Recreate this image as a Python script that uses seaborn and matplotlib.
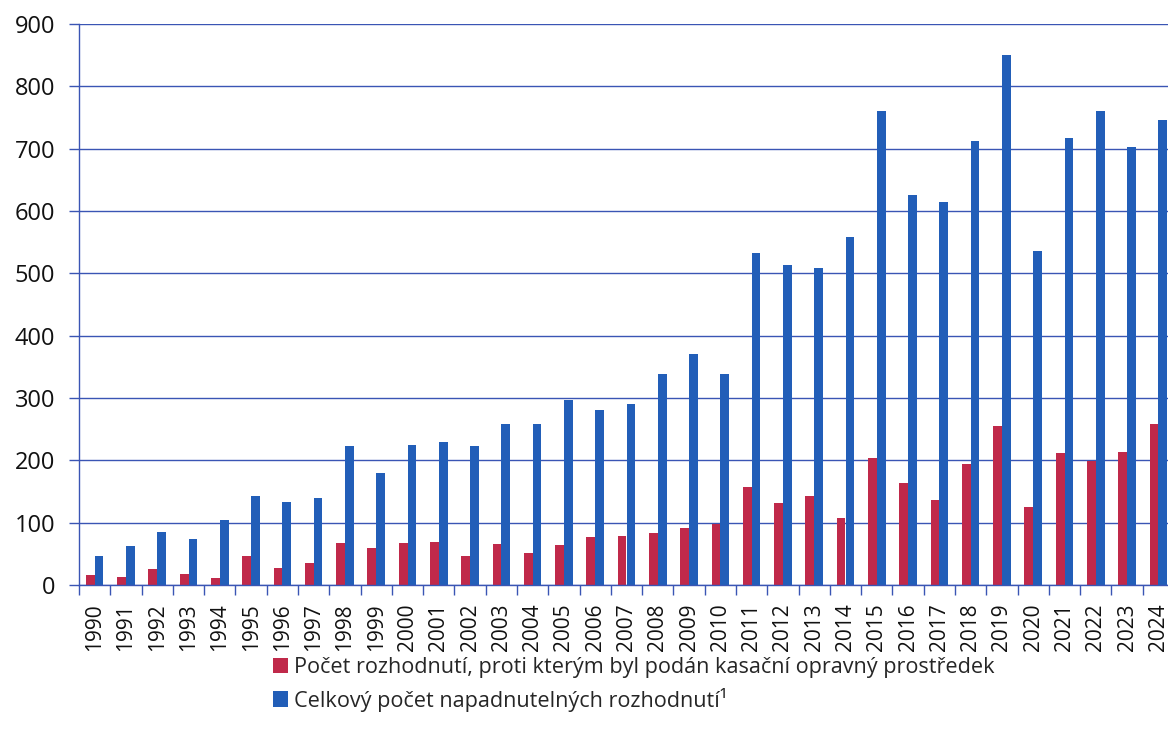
import numpy as np
import pandas as pd
import matplotlib
matplotlib.use("Agg")
import matplotlib.pyplot as plt
import seaborn as sns
from matplotlib.patches import Patch

years = [str(y) for y in range(1990, 2025)]

# Počet rozhodnutí, proti kterým byl podán kasační opravný prostředek
napadena = [16, 13, 25, 17, 12, 47, 27, 35, 67, 60,
            67, 69, 47, 66, 52, 64, 77, 78, 83, 92,
            98, 158, 132, 143, 108, 203, 163, 137, 194, 255,
            125, 212, 199, 213, 258]

# Celkový počet napadnutelných rozhodnutí
celkem = [46, 62, 85, 73, 104, 143, 133, 139, 223, 180,
          225, 229, 223, 259, 259, 297, 281, 290, 338, 371,
          338, 533, 514, 509, 559, 760, 626, 615, 713, 851,
          536, 717, 760, 703, 746]

series_names = ["Počet rozhodnutí, proti kterým byl podán kasační opravný prostředek",
                "Celkový počet napadnutelných rozhodnutí¹"]
colors = ["#C0294A", "#225EB8"]
grid_color = "#3A55B4"

df = pd.DataFrame({
    "rok": years * 2,
    "pocet": napadena + celkem,
    "serie": [series_names[0]] * len(years) + [series_names[1]] * len(years),
})

sns.set_theme(style="white")
plt.rcParams["font.family"] = ["Open Sans", "DejaVu Sans"]

fig = plt.figure(figsize=(11.68, 7.36), dpi=100)
ax = fig.add_axes([79 / 1168, 151 / 736, 1095 / 1168, 561 / 736])

sns.barplot(data=df, x="rok", y="pocet", hue="serie", palette=colors,
            width=0.56, gap=0, ax=ax, legend=False, saturation=1, linewidth=0)

ax.set_ylim(0, 900)
ax.set_xlim(-0.5, len(years) - 0.5)
ax.set_yticks(range(0, 901, 100))
ax.yaxis.grid(True, color=grid_color, linewidth=1.0)
ax.set_axisbelow(True)
ax.set_xlabel("")
ax.set_ylabel("")

for side in ["top", "right"]:
    ax.spines[side].set_visible(False)
for side in ["left", "bottom"]:
    ax.spines[side].set_color(grid_color)
    ax.spines[side].set_linewidth(1.0)

# tick marks sit on the category boundaries
ax.set_xticks(np.arange(len(years)) - 0.5, minor=True)
ax.set_xticks(np.arange(len(years)))
ax.set_xticklabels(years, rotation=90, fontsize=15, color="#111111")
ax.tick_params(axis="x", which="major", length=0, pad=13)
ax.tick_params(axis="x", which="minor", length=7, color=grid_color, width=1, bottom=True)
ax.tick_params(axis="y", length=7, color=grid_color, width=1, left=True,
               labelsize=17, labelcolor="#111111", pad=10)

handles = [Patch(facecolor=c, edgecolor="none") for c in colors]
fig.legend(handles, series_names, loc="upper left", bbox_to_anchor=(262 / 1168, 1 - 646 / 736),
           frameon=False, fontsize=15.6, handlelength=0.7, handleheight=0.7,
           handletextpad=0.3, labelspacing=0.45, borderpad=0)

fig.savefig("out.png", dpi=100)
